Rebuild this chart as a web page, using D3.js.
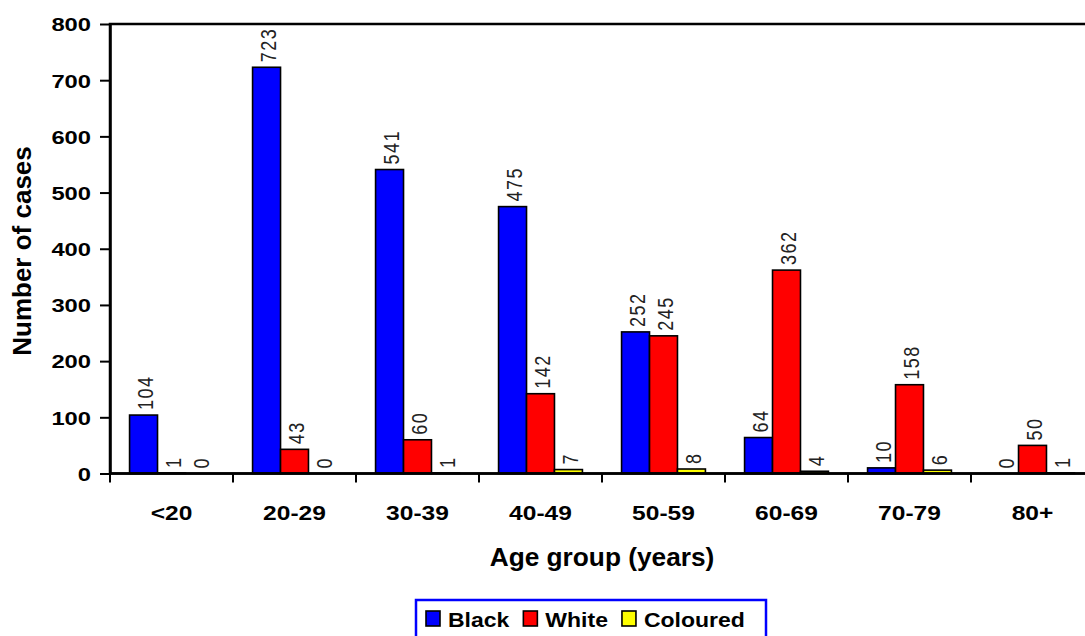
<!DOCTYPE html>
<html>
<head>
<meta charset="utf-8">
<script src="https://cdn.jsdelivr.net/npm/d3@7"></script>
<style>
  html, body { margin: 0; padding: 0; background: #fff; }
  svg { display: block; font-family: "Liberation Sans", Arimo, sans-serif; }
  svg text { font-family: "Liberation Sans", Arimo, sans-serif; }
</style>
</head>
<body>
<svg id="chart" width="1085" height="636"></svg>
<script>
// Cases by age group and population group
const ageGroups = ["<20", "20-29", "30-39", "40-49", "50-59", "60-69", "70-79", "80+"];
const seriesNames = ["Black", "White", "Coloured"];
const blackCases = [104, 723, 541, 475, 252, 64, 10, 0];
const whiteCases = [1, 43, 60, 142, 245, 362, 158, 50];
const colouredCases = [0, 0, 1, 7, 8, 4, 6, 1];
const yTicks = [0, 100, 200, 300, 400, 500, 600, 700, 800];

const seriesValues = [blackCases, whiteCases, colouredCases];
const seriesColors = ["#0000ff", "#ff0000", "#ffff00"];

const svg = d3.select("#chart");
const plot = { left: 110, right: 1094, top: 24, bottom: 473.5 };
const SX = 1.25; // horizontal stretch applied to text

const x0 = d3.scaleBand().domain(ageGroups).range([plot.left, plot.right]).padding(0);
const x1 = d3.scaleBand().domain(seriesNames).range([0, x0.bandwidth()])
  .paddingInner(0).paddingOuter(0.7);
const y = d3.scaleLinear().domain([0, 800]).range([plot.bottom, plot.top]);

// Bars
const rows = ageGroups.map((g, i) => ({
  group: g,
  items: seriesNames.map((s, k) => ({ series: s, value: seriesValues[k][i], color: seriesColors[k] }))
}));

const groups = svg.append("g").selectAll("g").data(rows).join("g")
  .attr("transform", d => `translate(${x0(d.group)},0)`);

groups.selectAll("rect").data(d => d.items).join("rect")
  .attr("x", d => x1(d.series))
  .attr("y", d => y(d.value))
  .attr("width", x1.bandwidth())
  .attr("height", d => y(0) - y(d.value))
  .attr("fill", d => d.color)
  .attr("stroke", "#000")
  .attr("stroke-width", 1.6);

// Value labels, rotated, above each bar
groups.selectAll("text").data(d => d.items).join("text")
  .attr("transform", d => `translate(${x1(d.series) + x1.bandwidth() / 2 + 1},${y(d.value) - 5}) scale(${SX},1) rotate(-90)`)
  .attr("dy", "0.36em")
  .attr("text-anchor", "start")
  .attr("font-size", 18)
  .attr("letter-spacing", 1.5)
  .attr("fill", "#222")
  .text(d => d.value);

// Plot frame (top and right edges)
svg.append("rect")
  .attr("x", plot.left).attr("y", plot.top)
  .attr("width", plot.right - plot.left).attr("height", plot.bottom - plot.top)
  .attr("fill", "none").attr("stroke", "#000").attr("stroke-width", 2.5);

// Y axis
const yAxis = svg.append("g").attr("transform", `translate(${plot.left},0)`)
  .call(d3.axisLeft(y).tickValues(yTicks).tickSize(10).tickSizeOuter(0).tickPadding(0));
yAxis.attr("font-family", null).attr("font-size", null);
yAxis.select(".domain").attr("stroke", "#000").attr("stroke-width", 2.5);
yAxis.selectAll(".tick line").attr("stroke", "#000").attr("stroke-width", 2);
yAxis.selectAll(".tick text")
  .attr("x", null)
  .attr("transform", `translate(-19,0) scale(${SX},1)`)
  .attr("dy", "0.36em")
  .attr("text-anchor", "end")
  .attr("font-size", 19)
  .attr("font-weight", "bold")
  .attr("fill", "#000");

// X axis: baseline with ticks at category boundaries
const xAxis = svg.append("g");
xAxis.append("line")
  .attr("x1", plot.left).attr("x2", plot.right)
  .attr("y1", plot.bottom).attr("y2", plot.bottom)
  .attr("stroke", "#000").attr("stroke-width", 2.5);
const boundaries = ageGroups.map(g => x0(g)).concat([plot.right]);
xAxis.selectAll("line.tick").data(boundaries).join("line")
  .attr("class", "tick")
  .attr("x1", d => d).attr("x2", d => d)
  .attr("y1", plot.bottom).attr("y2", plot.bottom + 9)
  .attr("stroke", "#000").attr("stroke-width", 2);
xAxis.selectAll("text").data(ageGroups).join("text")
  .attr("transform", d => `translate(${x0(d) + x0.bandwidth() / 2},520) scale(1.17,1)`)
  .attr("text-anchor", "middle")
  .attr("font-size", 21)
  .attr("font-weight", "bold")
  .text(d => d);

// Axis titles
svg.append("text")
  .attr("transform", `translate(${(plot.left + plot.right) / 2},566) scale(1.05,1)`)
  .attr("text-anchor", "middle")
  .attr("font-size", 25)
  .attr("font-weight", "bold")
  .text("Age group (years)");

svg.append("text")
  .attr("transform", "translate(31,251) rotate(-90)")
  .attr("text-anchor", "middle")
  .attr("font-size", 26)
  .attr("font-weight", "bold")
  .text("Number of cases");

// Legend
const legend = svg.append("g");
legend.append("rect")
  .attr("x", 416).attr("y", 600).attr("width", 350).attr("height", 50)
  .attr("fill", "#fff").attr("stroke", "#0000ff").attr("stroke-width", 2.5);

let lx = 426;
seriesNames.forEach((name, k) => {
  legend.append("rect")
    .attr("x", lx).attr("y", 611).attr("width", 14).attr("height", 15)
    .attr("fill", seriesColors[k]).attr("stroke", "#000").attr("stroke-width", 1.6);
  const t = legend.append("text")
    .attr("transform", `translate(${lx + 22},627) scale(1.15,1)`)
    .attr("font-size", 20)
    .attr("font-weight", "bold")
    .text(name);
  lx += 22 + t.node().getComputedTextLength() * 1.15 + 14;
});
</script>
</body>
</html>
